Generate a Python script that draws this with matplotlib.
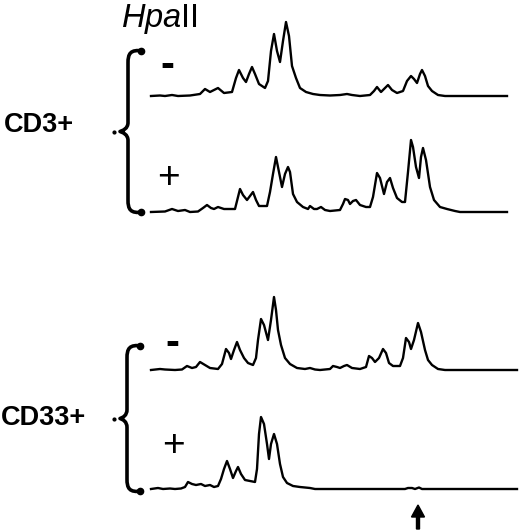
import matplotlib.pyplot as plt
from matplotlib.path import Path
from matplotlib.patches import PathPatch

plt.rcParams['font.family'] = ['Liberation Sans', 'DejaVu Sans']
plt.rcParams['mathtext.fontset'] = 'custom'
plt.rcParams['mathtext.it'] = 'Liberation Sans:italic'
plt.rcParams['mathtext.rm'] = 'Liberation Sans'

# Data: scan position and signal intensity for each trace
scan_cd3_minus = [0, 9, 14, 21, 27, 39, 49, 54, 59, 67, 73, 81, 85, 88, 92, 95, 98, 101, 104, 108,
                  114, 117, 120, 123, 126, 129, 132, 135, 138, 141, 145, 149, 155, 162, 169, 179, 189, 196, 201, 209,
                  219, 223, 226, 230, 234, 237, 241, 246, 252, 256, 260, 263, 266, 269, 271, 274, 277, 281, 287, 294, 356]
signal_cd3_minus = [0, 0.5, 0, 1, 0, 0.5, 2, 7, 4, 8, 3, 4, 18, 26, 18, 14, 22, 29, 22, 12,
                    8, 15, 45, 62, 45, 34, 55, 74, 60, 30, 18, 8, 4, 2, 1, 0.5, 1, 2, 1, 0,
                    1, 5, 9, 4, 8, 11, 6, 3, 5, 15, 20, 17, 13, 22, 26, 20, 10, 5, 1, 0, 0]

scan_cd3_plus = [0, 14, 21, 27, 34, 39, 47, 52, 56, 60, 63, 67, 73, 84, 87, 89, 92, 96, 99, 102,
                 105, 108, 116, 119, 122, 125, 128, 131, 134, 137, 139, 142, 146, 152, 157, 159, 163, 166, 170, 174,
                 179, 189, 192, 194, 197, 199, 202, 205, 209, 215, 219, 222, 226, 229, 233, 236, 239, 242, 246, 251,
                 254, 257, 260, 262, 265, 268, 270, 272, 275, 279, 283, 289, 296, 304, 309, 356]
signal_cd3_plus = [0, 0.5, 3, 1, 2, 0, 0.5, 4, 7, 4, 3, 5, 3, 3, 15, 23, 17, 12, 16, 20,
                   12, 6, 6, 20, 38, 55, 40, 25, 38, 45, 40, 18, 10, 5, 3, 6, 3, 3, 5, 2,
                   1, 2, 8, 13, 12, 8, 11, 12, 7, 5, 5, 15, 39, 34, 18, 30, 34, 24, 14, 10,
                   10, 40, 72, 65, 45, 34, 55, 64, 52, 25, 12, 5, 3, 1, 0, 0]

scan_cd33_minus = [0, 9, 14, 24, 31, 36, 41, 45, 49, 54, 59, 67, 71, 75, 78, 80, 83, 86, 89, 93,
                   97, 102, 105, 107, 110, 113, 117, 120, 123, 125, 127, 130, 134, 139, 146, 154, 159, 164, 169, 179,
                   182, 186, 189, 193, 196, 201, 209, 215, 218, 221, 224, 228, 232, 235, 238, 242, 249, 252, 255, 258,
                   260, 263, 267, 270, 274, 277, 281, 287, 294, 366]
signal_cd33_minus = [0, 1, 0.5, 0, 0.5, 4, 2, 3, 8, 5, 2, 1, 6, 21, 17, 11, 20, 28, 20, 12,
                     7, 5, 12, 30, 51, 45, 30, 50, 73, 60, 40, 25, 12, 6, 2, 1, 2, 0.5, 0, 1,
                     4, 3, 2, 4, 5, 2, 1, 3, 14, 12, 8, 12, 21, 17, 7, 4, 4, 12, 32, 28,
                     21, 30, 47, 38, 20, 10, 5, 1, 0, 0]

scan_cd33_plus = [0, 7, 12, 19, 24, 30, 34, 37, 41, 45, 50, 54, 59, 63, 67, 70, 73, 76, 79, 82,
                  85, 87, 90, 94, 99, 104, 106, 108, 110, 113, 116, 118, 120, 123, 126, 129, 132, 136, 142, 149,
                  159, 164, 254, 257, 261, 264, 268, 271, 366]
signal_cd33_plus = [0, 1, 0, 0.5, 0, 0.5, 2, 7, 5, 4, 5, 3, 4, 2, 3, 10, 20, 28, 20, 11,
                    18, 22, 15, 9, 8, 7, 20, 55, 72, 65, 45, 30, 45, 55, 45, 25, 12, 6, 3, 2,
                    1, 0, 0, 1, 1, 0, 1.5, 0, 0]

enzyme = r'$\mathit{Hpa}$II'
groups = ['CD3+', 'CD33+']
treatment = ['-', '+', '-', '+']

# Layout
fig = plt.figure(figsize=(5.2, 5.32), dpi=100)
ax = fig.add_axes([0, 0, 1, 1])
ax.set_xlim(0, 520)
ax.set_ylim(532, 0)
ax.axis('off')

x0 = 151
traces = [(scan_cd3_minus, signal_cd3_minus, 96),
          (scan_cd3_plus, signal_cd3_plus, 212),
          (scan_cd33_minus, signal_cd33_minus, 370),
          (scan_cd33_plus, signal_cd33_plus, 489)]
for scan, sig, base in traces:
    ax.plot([x0 + s for s in scan], [base - v for v in sig], color='black', lw=1.7,
            solid_joinstyle='round')


def brace(y_top, y_bot, x_line, x_tip, x_hook):
    y_mid = (y_top + y_bot) / 2
    verts = [(x_hook, y_top + 1), (x_line + 2, y_top - 1), (x_line, y_top + 4), (x_line, y_top + 13),
             (x_line, y_mid - 9),
             (x_line, y_mid - 3), (x_tip + 3, y_mid - 1), (x_tip, y_mid),
             (x_tip + 3, y_mid + 1), (x_line, y_mid + 3), (x_line, y_mid + 9),
             (x_line, y_bot - 13),
             (x_line, y_bot - 4), (x_line + 2, y_bot + 1), (x_hook, y_bot - 1)]
    codes = [Path.MOVETO, Path.CURVE4, Path.CURVE4, Path.CURVE4, Path.LINETO,
             Path.CURVE4, Path.CURVE4, Path.CURVE4, Path.CURVE4, Path.CURVE4, Path.CURVE4,
             Path.LINETO, Path.CURVE4, Path.CURVE4, Path.CURVE4]
    ax.add_patch(PathPatch(Path(verts, codes), fill=False, lw=2.6, capstyle='round',
                           joinstyle='round', color='black'))
    ax.plot([x_hook - 2, x_hook - 2], [y_top + 1, y_bot - 1], 'o', ms=4.5, color='black')
    ax.plot(x_tip - 6, y_mid, 'o', ms=2, color='black')
    return y_mid


mid1 = brace(50, 213, 128, 120, 143)
mid2 = brace(345, 492, 127, 120, 142)

ax.text(4, 132, groups[0], fontsize=19.5, fontweight='bold', ha='left', va='baseline')
ax.text(1, 425, groups[1], fontsize=19.5, fontweight='bold', ha='left', va='baseline')

ax.text(121, 27, enzyme, fontsize=23.5, ha='left', va='baseline')

sign_pos = [(167, 62), (168, 174), (172, 340), (173, 442)]
for (sx, sy), s in zip(sign_pos, treatment):
    if s == '-':
        ax.text(sx, sy, '-', fontsize=30, fontweight='bold', ha='center', va='center_baseline')
    else:
        ax.text(sx, sy, '+', fontsize=28, ha='center', va='center_baseline')

ax.arrow(418, 529, 0, -24, width=3, head_width=13, head_length=12,
         length_includes_head=True, color='black')

fig.savefig('out.png', dpi=100)
